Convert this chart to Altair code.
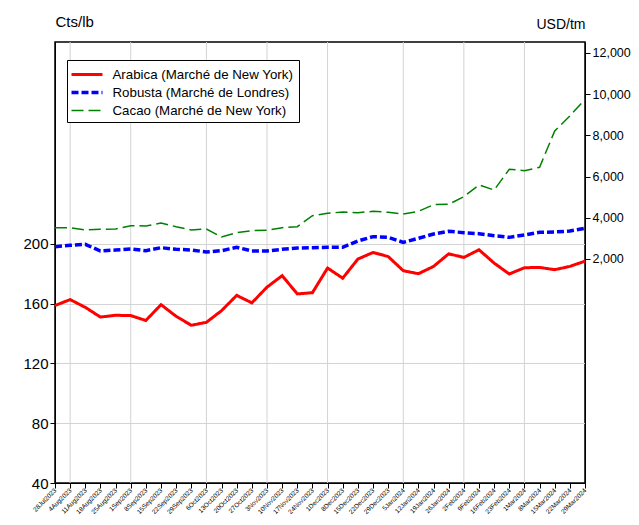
import altair as alt
import pandas as pd

dates = ["28Jul2023", "4Aug2023", "11Aug2023", "18Aug2023", "25Aug2023", "1Sep2023",
         "8Sep2023", "15Sep2023", "22Sep2023", "29Sep2023", "6Oct2023", "13Oct2023",
         "20Oct2023", "27Oct2023", "3Nov2023", "10Nov2023", "17Nov2023", "24Nov2023",
         "1Dec2023", "8Dec2023", "15Dec2023", "22Dec2023", "29Dec2023", "5Jan2024",
         "12Jan2024", "19Jan2024", "26Jan2024", "2Feb2024", "9Feb2024", "16Feb2024",
         "23Feb2024", "1Mar2024", "8Mar2024", "15Mar2024", "22Mar2024", "29Mar2024"]

arabica = [158.7, 162.7, 157.5, 151.0, 152.2, 152.0, 148.7, 159.3, 151.5, 145.5, 147.5, 155.3,
           165.5, 160.5, 171.0, 178.7, 166.5, 167.3, 183.8, 177.0, 189.8, 194.2, 191.5, 182.0,
           180.0, 184.9, 193.3, 190.9, 196.0, 187.1, 179.8, 184.0, 184.2, 182.7, 184.9, 188.4]

robusta = [2597, 2665, 2713, 2388, 2437, 2485, 2404, 2550, 2470, 2437, 2340, 2404,
           2566, 2388, 2388, 2470, 2534, 2550, 2566, 2566, 2874, 3083, 3050, 2810,
           3002, 3213, 3343, 3277, 3228, 3131, 3050, 3165, 3294, 3310, 3359, 3488]

cacao = [3519, 3519, 3408, 3440, 3456, 3617, 3602, 3747, 3568, 3408, 3456, 3068,
         3277, 3374, 3391, 3519, 3568, 4102, 4216, 4281, 4248, 4313, 4266, 4184,
         4313, 4636, 4655, 5024, 5592, 5349, 6354, 6286, 6451, 8213, 8941, 9752]

grid_dates = ["4Aug2023", "1Sep2023", "6Oct2023", "3Nov2023", "1Dec2023",
              "5Jan2024", "2Feb2024", "1Mar2024"]

names = ["Arabica (Marché de New York)", "Robusta (Marché de Londres)",
         "Cacao (Marché de New York)"]
colors = ["#ff0000", "#0000ff", "#008000"]
left_ticks = [40, 80, 120, 160, 200]
right_ticks = [2000, 4000, 6000, 8000, 10000, 12000]

rows = []
for name, vals in zip(names, [arabica, robusta, cacao]):
    for d, v in zip(dates, vals):
        rows.append({"date": d, "serie": name, "value": v})
df = pd.DataFrame(rows)

FONT = "Liberation Sans"

xscale = alt.Scale(type="point", padding=0, domain=dates)
xaxis = alt.Axis(title=None, labelAngle=-45, labelFontSize=6.5, labelAlign="right",
                 labelBaseline="middle", tickSize=5, grid=False, labelOverlap=False,
                 domainColor="black", tickColor="black", labelColor="black", labelPadding=1,
                 labelFont=FONT)

legend = alt.Legend(orient="none", legendX=12, legendY=18, title=None,
                    strokeColor="black", fillColor="white", padding=5,
                    symbolType="M-2,0H2", symbolSize=240, symbolOffset=5.5,
                    labelOffset=16, labelFontSize=13.3,
                    labelFont=FONT, labelColor="black", labelLimit=400, rowPadding=2)

color = alt.Color("serie:N", scale=alt.Scale(domain=names, range=colors), legend=legend)
dash = alt.StrokeDash("serie:N", scale=alt.Scale(type="ordinal", domain=names,
                                                 range=[[1, 0], [7, 3], [12, 5]]),
                      legend=legend)
width = alt.StrokeWidth("serie:N", scale=alt.Scale(type="ordinal", domain=names,
                                                   range=[3, 3.5, 1.5]),
                        legend=legend)

grid = alt.Chart(pd.DataFrame({"date": grid_dates})).mark_rule(
    color="#d3d3d3", strokeWidth=1
).encode(x=alt.X("date:N", scale=xscale, axis=xaxis))

left = alt.Chart(df).transform_filter(alt.datum.serie == names[0]).mark_line().encode(
    x=alt.X("date:N", scale=xscale, axis=xaxis),
    y=alt.Y("value:Q", scale=alt.Scale(domain=[40, 335], nice=False, zero=False),
            axis=alt.Axis(values=left_ticks, title="Cts/lb", titleAngle=0, titleAlign="left",
                          titleBaseline="alphabetic", titleX=0, titleY=-16,
                          titleFontSize=15, titleFontWeight="normal", labelFontSize=15,
                          tickSize=5, domainColor="black", tickColor="black",
                          labelColor="black", titleColor="black", gridColor="#d3d3d3",
                          labelFont=FONT, titleFont=FONT)),
    color=color, strokeDash=dash, strokeWidth=width,
)

right = alt.Chart(df).transform_filter(alt.datum.serie != names[0]).mark_line().encode(
    x=alt.X("date:N", scale=xscale, axis=xaxis),
    y=alt.Y("value:Q", scale=alt.Scale(domain=[-8870, 12530], nice=False, zero=False),
            axis=alt.Axis(orient="right", values=right_ticks, format=",d", title="USD/tm",
                          titleAngle=0, titleAlign="right", titleBaseline="alphabetic",
                          titleX=0, titleY=-14, titleFontSize=14, titleFontWeight="normal",
                          labelFontSize=12.5, tickSize=5, labelPadding=2,
                          domainColor="black", tickColor="black",
                          labelColor="black", titleColor="black", gridColor="#d3d3d3",
                          labelFont=FONT, titleFont=FONT)),
    color=color, strokeDash=dash, strokeWidth=width,
)

chart = alt.layer(grid, left, right).resolve_scale(y="independent").properties(
    width=530, height=441,
    autosize=alt.AutoSizeParams(type="none"),
    padding={"left": 47, "top": 34, "right": 46, "bottom": 34},
    background="white",
).configure_view(stroke="black", strokeWidth=1.5)

chart.save("out.html", embed_options={"renderer": "svg", "actions": False})
